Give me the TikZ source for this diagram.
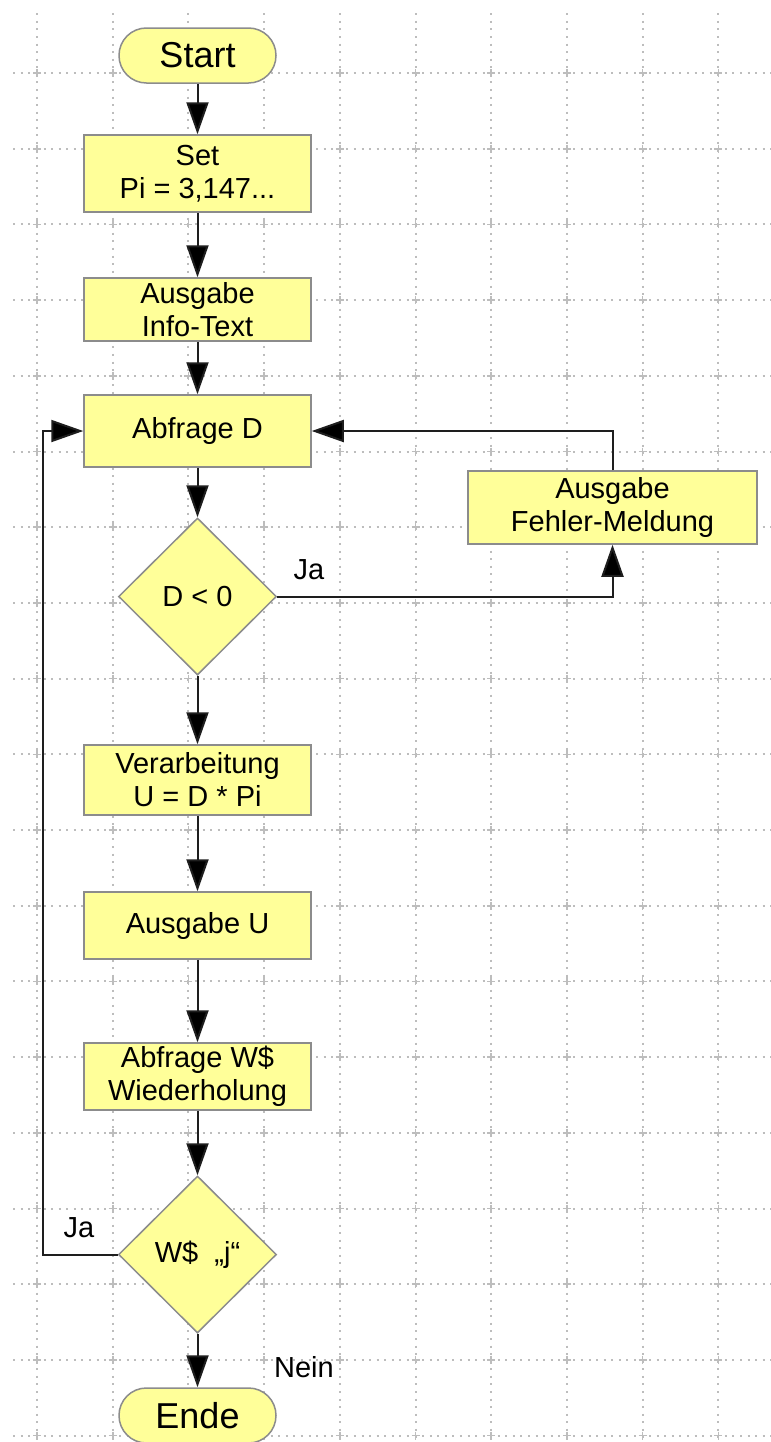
\documentclass[tikz,border=0pt]{standalone}
\usepackage{fontspec}
\setmainfont{Liberation Sans}
\usetikzlibrary{shapes.geometric,arrows.meta}
\definecolor{boxfill}{HTML}{FFFF99}
\definecolor{boxline}{HTML}{8C8C8C}
\definecolor{gridc}{HTML}{BDBDBD}
\definecolor{conn}{HTML}{1E1E1E}
\begin{document}
\begin{tikzpicture}[x=0.5pt,y=-0.5pt,
  box/.style={draw=boxline,fill=boxfill,line width=0.75pt,minimum width=113.5pt,inner sep=0pt,align=center,font=\fontsize{14.5}{16.5}\selectfont},
  term/.style={draw=boxline,fill=boxfill,line width=0.75pt,rounded corners=13.7pt,minimum width=78.5pt,minimum height=27.5pt,inner sep=0pt,font=\fontsize{18}{20}\selectfont},
  dec/.style={diamond,draw=boxline,fill=boxfill,line width=0.75pt,minimum width=79pt,minimum height=78.5pt,inner sep=0pt,font=\fontsize{14.5}{16.5}\selectfont},
  arr/.style={draw=conn,line width=1pt,-{Triangle[length=16pt,width=11pt,fill=black]}},
  lbl/.style={font=\fontsize{14.5}{16.5}\selectfont,inner sep=0pt},
  gridline/.style={draw=gridc,line width=1pt,dash pattern=on 1pt off 2.785pt},
  gridcross/.style={draw=gridc,line width=0.8pt}
]
\fill[white] (0,0) rectangle (771,1442);
\useasboundingbox (0,0) rectangle (771,1442);
% grid
\foreach \k in {0,...,18}
  \draw[gridline] (13.3,{73+75.7*\k}) -- (771,{73+75.7*\k});
\foreach \k in {0,...,9}
  \draw[gridline] ({37+75.7*\k},13.3) -- ({37+75.7*\k},1442);
\foreach \i in {0,...,9}
  \foreach \j in {0,...,18}
    \draw[gridcross] ({37+75.7*\i-4},{73+75.7*\j}) -- ({37+75.7*\i+4},{73+75.7*\j})
                     ({37+75.7*\i},{73+75.7*\j-4}) -- ({37+75.7*\i},{73+75.7*\j+4});
% nodes
\node[term] (start) at (197.5,55.5) {Start};
\node[box,minimum height=38.5pt] (set) at (197.5,173.5) {Set\\Pi = 3,147...};
\node[box,minimum height=31.5pt] (info) at (197.5,309.5) {Ausgabe\\Info-Text};
\node[box,minimum height=36pt] (abfD) at (197.5,431) {Abfrage D};
\node[dec] (d0) at (197.5,596.5) {D < 0};
\node[box,minimum width=144.5pt,minimum height=36.5pt] (fehler) at (612.5,507.5) {Ausgabe\\Fehler-Meldung};
\node[box,minimum height=35pt] (verarb) at (197.5,780) {Verarbeitung\\U = D * Pi};
\node[box,minimum height=33.5pt] (ausU) at (197.5,925.5) {Ausgabe U};
\node[box,minimum height=33.5pt] (abfW) at (197.5,1076.5) {Abfrage W\$\\Wiederholung};
\node[dec] (wd) at (197.5,1254.5) {W\$\ \ „j“};
\node[term] (ende) at (197.5,1415.5) {Ende};
% labels
\node[lbl] (ja1) at (309,570) {Ja};
\node[lbl] (ja2) at (79,1228) {Ja};
\node[lbl] (nein) at (304,1367) {Nein};
% connectors
\draw[arr] (start) -- (set);
\draw[arr] (set) -- (info);
\draw[arr] (info) -- (abfD);
\draw[arr] (abfD) -- (d0.north);
\draw[arr] (d0.south) -- (verarb);
\draw[arr] (verarb) -- (ausU);
\draw[arr] (ausU) -- (abfW);
\draw[arr] (abfW) -- (wd.north);
\draw[arr] (wd.south) -- (ende);
\draw[arr] (d0.east) -| (fehler.south);
\draw[arr] (fehler.north) |- (abfD.east);
\coordinate (loopc) at (43,1254.5);
\draw[arr] (wd.west) -- (loopc) |- (abfD.west);
\end{tikzpicture}
\end{document}
